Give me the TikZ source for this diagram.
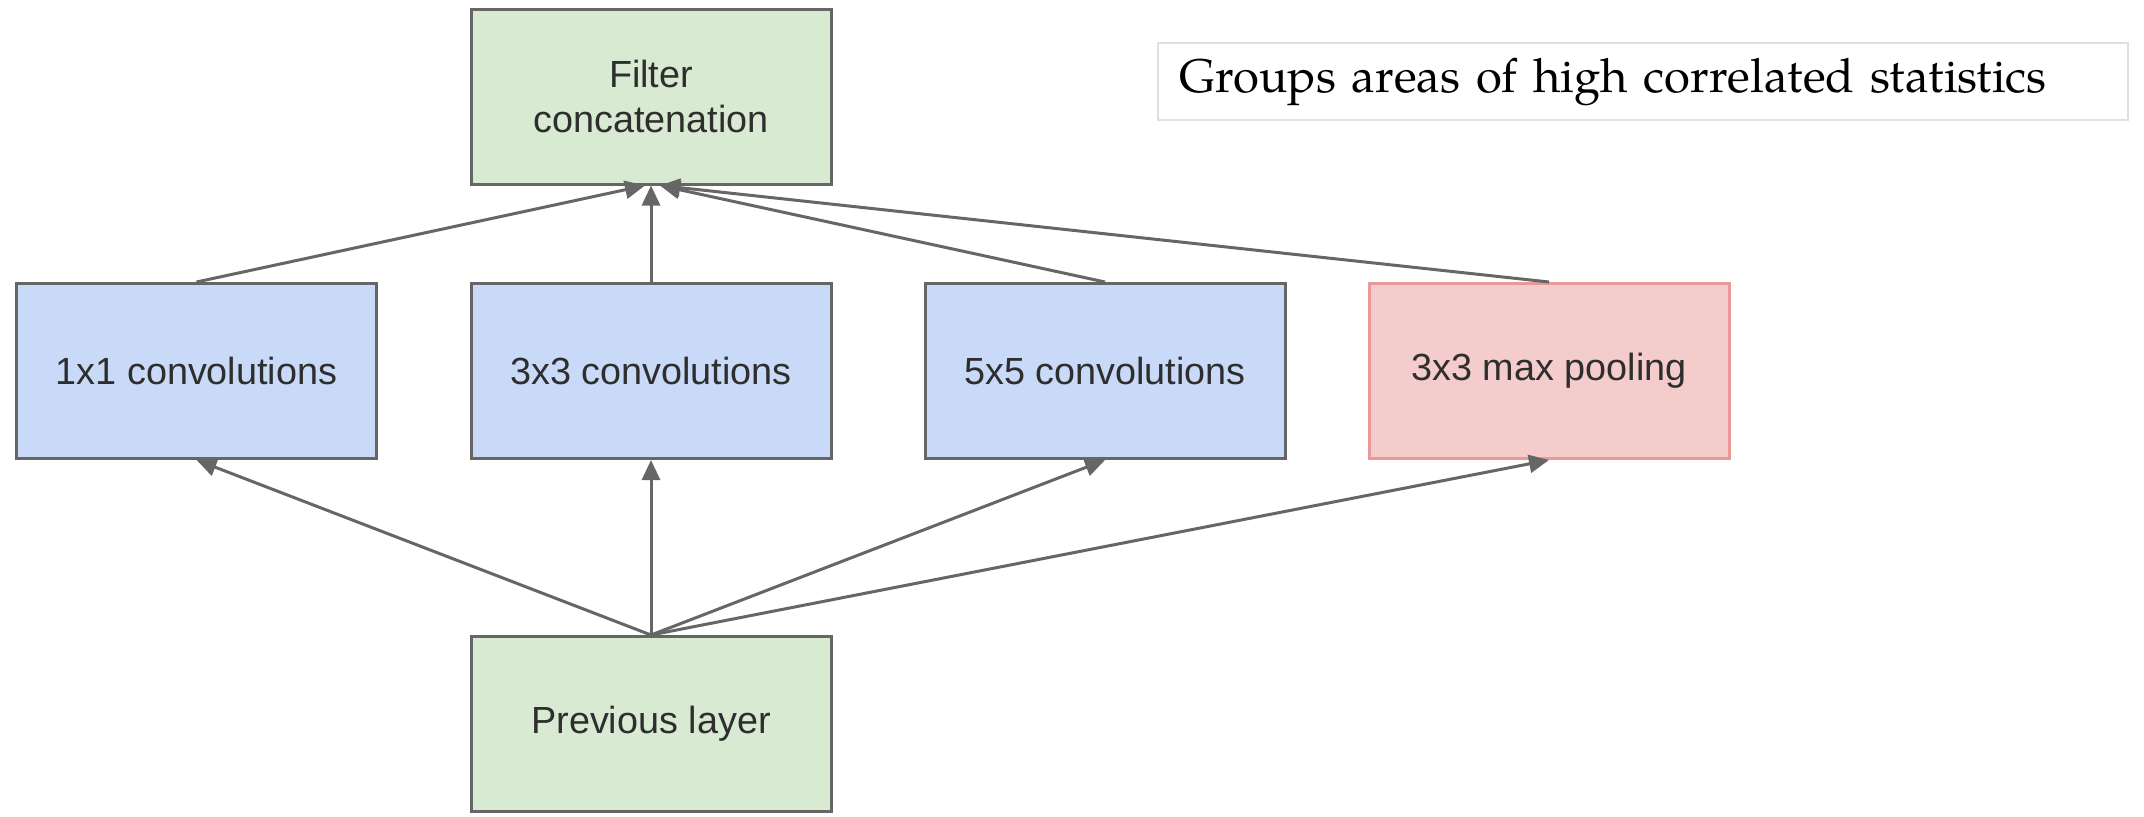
\documentclass[tikz,border=0pt]{standalone}
\usepackage{fontspec}
\setmainfont{Liberation Sans}
\newfontfamily\palfont{TeX Gyre Pagella}
\usetikzlibrary{arrows.meta,calc}
\definecolor{boxgray}{HTML}{666666}
\definecolor{greenfill}{HTML}{D9EAD3}
\definecolor{bluefill}{HTML}{C9DAF8}
\definecolor{redfill}{HTML}{F4CCCC}
\definecolor{redline}{HTML}{EA9999}
\definecolor{txt}{HTML}{2E2E2E}
\definecolor{noteline}{HTML}{E4DFD6}
\tikzset{
  blockbox/.style={draw=boxgray, line width=1.5pt, minimum width=180pt, minimum height=87.5pt,
    inner sep=0pt, align=center, text=txt, font=\fontsize{18.9}{22.5}\selectfont},
  greenbox/.style={blockbox, fill=greenfill},
  bluebox/.style={blockbox, fill=bluefill},
  redbox/.style={blockbox, fill=redfill, draw=redline},
  notebox/.style={draw=noteline, line width=1pt, minimum width=485pt, minimum height=38.5pt,
    inner xsep=10.5pt, text width=464pt, align=left, font=\palfont\fontsize{23.6}{28}\selectfont},
  conn/.style={draw=boxgray, line width=1.5pt, -{Triangle[length=10pt,width=9pt]}}
}
\begin{document}
\begin{tikzpicture}[x=0.5pt, y=-0.5pt]
\useasboundingbox (0,0) rectangle (2144,816);
\node[greenbox] (concat) at (651,96.5) {Filter\\concatenation};
\node[bluebox] (c1) at (196.5,371) {1x1 convolutions};
\node[bluebox] (c3) at (651,371) {3x3 convolutions};
\node[bluebox] (c5) at (1105,371) {5x5 convolutions};
\node[redbox] (pool) at (1549,371) {3x3 max pooling};
\node[greenbox] (prev) at (651,724) {Previous layer};
\node[notebox] (note) at (1643,81.5) {Groups areas of high correlated statistics};

\draw[conn] (c1.north) -- ($(concat.south)+(-6,0)$);
\draw[conn] (c3.north) -- (concat.south);
\draw[conn] (c5.north) -- ($(concat.south)+(9,0)$);
\draw[conn] (pool.north) -- ($(concat.south)+(9,0)$);

\draw[conn] (prev.north) -- (c1.south);
\draw[conn] (prev.north) -- (c3.south);
\draw[conn] (prev.north) -- (c5.south);
\draw[conn] (prev.north) -- (pool.south);
\end{tikzpicture}
\end{document}
